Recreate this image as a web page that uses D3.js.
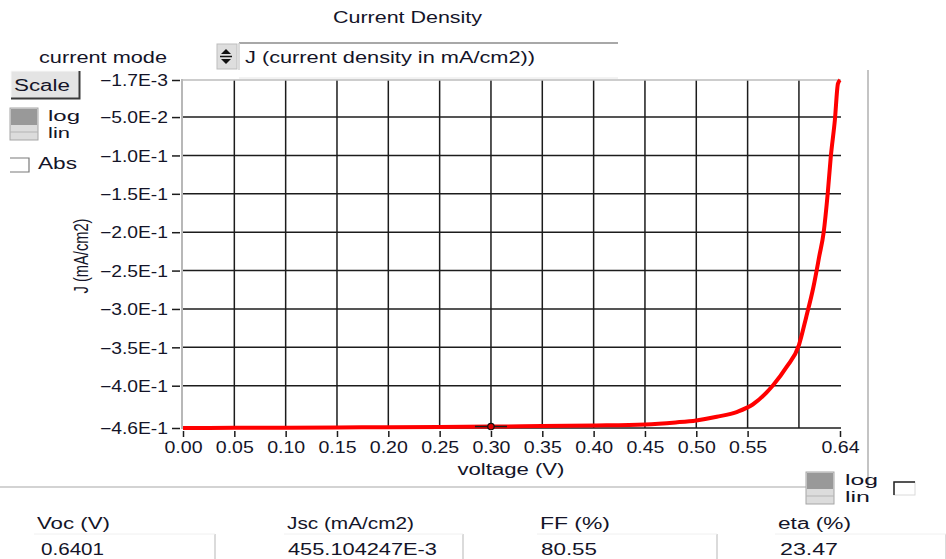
<!DOCTYPE html>
<html>
<head>
<meta charset="utf-8">
<script src="https://cdn.jsdelivr.net/npm/d3@7"></script>
<style>
  body { margin: 0; background: #fff; }
  svg text { font-family: "Liberation Sans", Arial, sans-serif; fill: #141428; }
</style>
</head>
<body>
<div id="chart"></div>
<script>
// J-V curve
var voltage = [0, 0.05, 0.10, 0.15, 0.20, 0.25, 0.30, 0.35, 0.40, 0.45, 0.48, 0.50, 0.52, 0.54,
               0.555, 0.575, 0.588, 0.60, 0.607, 0.614, 0.620, 0.624, 0.628, 0.631, 0.635, 0.638, 0.6401];
var current = [-0.4551, -0.4549, -0.4547, -0.4544, -0.4541, -0.4537, -0.4532, -0.4526, -0.4518, -0.4505,
               -0.4478, -0.4452, -0.4405, -0.4340, -0.4245, -0.3990, -0.3755, -0.3470, -0.3110, -0.2720,
               -0.2300, -0.2010, -0.1500, -0.1020, -0.0540, -0.0065, -0.0017];

var xTicks = [0, 0.05, 0.10, 0.15, 0.20, 0.25, 0.30, 0.35, 0.40, 0.45, 0.50, 0.55, 0.64];
var xGrid = [0.05, 0.10, 0.15, 0.20, 0.25, 0.30, 0.35, 0.40, 0.45, 0.50, 0.55, 0.60];
var yTicks = [-0.0017, -0.05, -0.1, -0.15, -0.2, -0.25, -0.3, -0.35, -0.4, -0.455104];

var cursorV = 0.30, cursorJ = -0.4532;

var resultNames = ["Voc (V)", "Jsc (mA/cm2)", "FF  (%)", "eta (%)"];
var resultValues = ["0.6401", "455.104247E-3", "80.55", "23.47"];

var W = 946, H = 559;

var svg = d3.select("#chart").append("svg")
    .attr("width", W).attr("height", H);

var x = d3.scaleLinear().domain([0, 0.64]).range([183, 840]);
var y = d3.scaleLinear().domain([-0.455104, -0.0017]).range([428, 80]);

// text helper, len stretches the text like in the screenshot
function txt(s, px, py, size, anchor, len){
    var t = svg.append("text")
        .attr("x", px).attr("y", py)
        .attr("font-size", size)
        .attr("text-anchor", anchor || "start")
        .text(s);
    if(len){ t.attr("textLength", len).attr("lengthAdjust", "spacingAndGlyphs"); }
    return t;
}

// separators
svg.append("line").attr("x1", 0).attr("x2", 806).attr("y1", 487).attr("y2", 487)
    .attr("stroke", "#c4c4c4").attr("stroke-width", 1.5);
svg.append("line").attr("x1", 868).attr("x2", 868).attr("y1", 70).attr("y2", 487)
    .attr("stroke", "#c4c4c4").attr("stroke-width", 2);

// title
txt("Current Density", 333, 23, 16, "start", 149);

// mode selector
txt("current mode", 39, 63, 16, "start", 128);
svg.append("rect").attr("x", 217).attr("y", 44).attr("width", 20).attr("height", 25)
    .attr("fill", "#dedede").attr("stroke", "#bdbdbd");
svg.append("path").attr("d", "M221,54 L226,49 L231,54 Z").attr("fill", "#111");
svg.append("path").attr("d", "M221,59 L226,64 L231,59 Z").attr("fill", "#111");
svg.append("line").attr("x1", 220).attr("x2", 232).attr("y1", 56.5).attr("y2", 56.5)
    .attr("stroke", "#111").attr("stroke-width", 1.5);
svg.append("line").attr("x1", 239).attr("x2", 618).attr("y1", 43).attr("y2", 43)
    .attr("stroke", "#a8a8a8").attr("stroke-width", 2);
svg.append("line").attr("x1", 239).attr("x2", 239).attr("y1", 43).attr("y2", 70)
    .attr("stroke", "#d0d0d0").attr("stroke-width", 1.5);
svg.append("line").attr("x1", 239).attr("x2", 618).attr("y1", 78).attr("y2", 78)
    .attr("stroke", "#e6e6e6").attr("stroke-width", 1);
txt("J (current density in mA/cm2))", 245, 63, 16, "start", 290);

// Scale button
svg.append("rect").attr("x", 11).attr("y", 71).attr("width", 68).attr("height", 27)
    .attr("fill", "#e4e4e4");
svg.append("path").attr("d", "M11,98 L11,71 L79,71").attr("fill", "none").attr("stroke", "#f8f8f8");
svg.append("path").attr("d", "M11,98.5 L79.5,98.5 L79.5,71").attr("fill", "none")
    .attr("stroke", "#3a3a3a").attr("stroke-width", 2);
txt("Scale", 14, 91, 16, "start", 56);

// log / lin switch
function switchBox(bx, by){
    svg.append("rect").attr("x", bx).attr("y", by).attr("width", 28).attr("height", 32)
        .attr("fill", "#dcdcdc").attr("stroke", "#a6a6a6");
    svg.append("rect").attr("x", bx + 1).attr("y", by + 1).attr("width", 26).attr("height", 16)
        .attr("fill", "#999");
    svg.append("line").attr("x1", bx).attr("x2", bx + 28).attr("y1", by + 24).attr("y2", by + 24)
        .attr("stroke", "#b4b4b4");
}
switchBox(10, 108);
txt("log", 48, 121, 14, "start", 32);
txt("lin", 48, 138, 14, "start", 22);

// Abs checkbox
svg.append("path").attr("d", "M10,158 L29,158 L29,172 L10,172").attr("fill", "#fff")
    .attr("stroke", "#7a7a7a").attr("stroke-width", 1.2);
txt("Abs", 38, 169, 16, "start", 39);

// grid
var grid = svg.append("g");
grid.selectAll(".vg").data(xGrid).enter().append("line")
    .attr("x1", function(d){ return x(d); }).attr("x2", function(d){ return x(d); })
    .attr("y1", 80).attr("y2", 428)
    .attr("stroke", "#1c1c1c").attr("stroke-width", 1.5);
grid.selectAll(".hg").data(yTicks.slice(1)).enter().append("line")
    .attr("x1", 183).attr("x2", 841)
    .attr("y1", function(d){ return y(d); }).attr("y2", function(d){ return y(d); })
    .attr("stroke", "#1c1c1c").attr("stroke-width", 1.5);
svg.append("line").attr("x1", 183).attr("x2", 841).attr("y1", 80).attr("y2", 80)
    .attr("stroke", "#bcbcbc").attr("stroke-width", 1.5);

// y axis
var yAxis = svg.append("g").attr("transform", "translate(181,0)")
    .call(d3.axisLeft(y).tickValues(yTicks).tickSize(9).tickPadding(4)
        .tickFormat(function(d){ return d3.format(".1e")(d).toUpperCase(); }));
yAxis.select(".domain").remove();
yAxis.selectAll(".tick line").attr("x2", -1).attr("x1", -9).attr("stroke", "#1c1c1c").attr("stroke-width", 1.5);
yAxis.selectAll(".tick text").attr("font-size", 16).attr("font-family", null)
    .attr("textLength", 68).attr("lengthAdjust", "spacingAndGlyphs").attr("dy", "0.36em");
svg.append("line").attr("x1", 182).attr("x2", 182).attr("y1", 79).attr("y2", 429)
    .attr("stroke", "#b8b8b8").attr("stroke-width", 2);

// x axis
var xAxis = svg.append("g").attr("transform", "translate(0,428)")
    .call(d3.axisBottom(x).tickValues(xTicks).tickSize(9).tickPadding(5)
        .tickFormat(d3.format(".2f")));
xAxis.select(".domain").remove();
xAxis.selectAll(".tick line").attr("y1", 3).attr("stroke", "#1c1c1c").attr("stroke-width", 1.5);
xAxis.selectAll(".tick text").attr("font-size", 16).attr("font-family", null)
    .attr("textLength", 38).attr("lengthAdjust", "spacingAndGlyphs");

// axis titles
txt("voltage (V)", 511, 475, 16, "middle", 107);
svg.append("text")
    .attr("transform", "translate(88,256) rotate(-90) scale(1,1.3)")
    .attr("text-anchor", "middle").attr("font-size", 15)
    .attr("textLength", 75).attr("lengthAdjust", "spacingAndGlyphs")
    .text("J (mA/cm2)");

// curve
var pts = voltage.map(function(v, i){ return [v, current[i]]; });
svg.append("path").datum(pts)
    .attr("fill", "none").attr("stroke", "#ff0000").attr("stroke-width", 4)
    .attr("stroke-linejoin", "round")
    .attr("d", d3.line().curve(d3.curveMonotoneX)
        .x(function(d){ return x(d[0]); }).y(function(d){ return y(d[1]); }));

// cursor
svg.append("line").attr("x1", x(cursorV) - 16).attr("x2", x(cursorV) + 16)
    .attr("y1", y(cursorJ)).attr("y2", y(cursorJ))
    .attr("stroke", "#1c1c1c").attr("stroke-width", 1.5);
svg.append("circle").attr("cx", x(cursorV)).attr("cy", y(cursorJ)).attr("r", 3.2)
    .attr("fill", "#e00000").attr("stroke", "#111").attr("stroke-width", 1.2);

// log / lin switch (bottom right)
switchBox(806, 472);
txt("log", 845, 485, 14, "start", 33);
txt("lin", 845, 502, 14, "start", 25);
svg.append("rect").attr("x", 894).attr("y", 482).attr("width", 21).attr("height", 13)
    .attr("fill", "#fff").attr("stroke", "#dadada");
svg.append("path").attr("d", "M894,495 L894,482 L915,482").attr("fill", "none")
    .attr("stroke", "#222").attr("stroke-width", 1.5);

// results panel
var colX = [37, 287, 540, 778];
var colW = [73, 127, 70, 73];
var valX = [41, 288, 541, 780];
var valW = [63, 149, 56, 58];
var boxR = [215, 463, 717, 946];
resultNames.forEach(function(n, i){
    txt(n, colX[i], 529, 16, "start", colW[i]);
    txt(resultValues[i], valX[i], 555, 16, "start", valW[i]);
    svg.append("line").attr("x1", boxR[i]).attr("x2", boxR[i]).attr("y1", 534).attr("y2", 559)
        .attr("stroke", "#cfcfcf").attr("stroke-width", 1.5);
    svg.append("line").attr("x1", colX[i] - 3).attr("x2", boxR[i]).attr("y1", 534).attr("y2", 534)
        .attr("stroke", "#f0f0f0").attr("stroke-width", 1);
});
</script>
</body>
</html>
